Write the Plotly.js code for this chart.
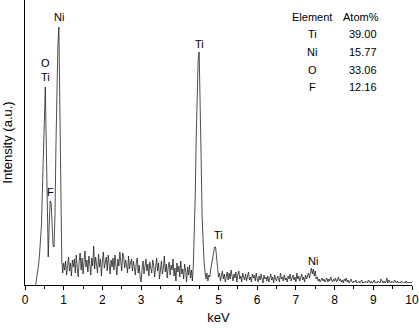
<!DOCTYPE html>
<html>
<head>
<meta charset="utf-8">
<script src="https://cdn.plot.ly/plotly-3.0.1.min.js"></script>
<style>
  html, body { margin: 0; padding: 0; background: #fff; }
  #eds { width: 419px; height: 328px; }
</style>
</head>
<body>
<div id="eds"></div>
<script>
// EDS spectrum, channels every 0.025 keV starting at 0.275 keV
var startKeV = 0.275;
var channelKeV = 0.025;
var counts = [
    0, 6, 12, 20, 30, 42, 60, 95, 140, 180, 198, 140, 55, 28, 60, 84, 82, 60, 40, 38,
    70, 140, 200, 240, 258, 160, 60, 25, 12, 22, 15, 24, 10, 20, 28, 14, 22, 9, 25, 18,
    26, 12, 30, 17, 8, 24, 32, 15, 27, 11, 20, 34, 18, 25, 13, 29, 21, 10, 27, 19,
    39, 16, 28, 22, 12, 31, 18, 26, 9, 24, 33, 17, 21, 28, 14, 30, 20, 11, 25, 18,
    27, 15, 30, 22, 10, 26, 19, 33, 24, 14, 32, 28, 17, 25, 20, 12, 29, 16, 22, 26,
    14, 24, 18, 10, 22, 27, 12, 20, 8, 3, 16, 24, 11, 19, 26, 14, 21, 9, 23, 17,
    12, 25, 20, 8, 18, 27, 14, 22, 6, 19, 24, 11, 17, 29, 13, 21, 7, 18, 23, 10,
    20, 15, 26, 9, 17, 4, 22, 13, 19, 8, 24, 11, 16, 6, 21, 14, 3, 18, 10, 20,
    7, 15, 4, 20, 50, 90, 150, 200, 225, 233, 195, 130, 70, 35, 24, 14, 6, 12, 4, 10,
    8, 16, 22, 30, 36, 38, 38, 28, 16, 8, 12, 4, 9, 14, 6, 11, 3, 8, 13, 5,
    12, 6, 15, 9, 4, 11, 7, 13, 3, 10, 14, 6, 9, 3, 12, 8, 5, 11, 4, 9,
    13, 5, 8, 3, 11, 7, 10, 4, 12, 6, 3, 9, 5, 11, 7, 2, 10, 6, 8, 4,
    9, 3, 7, 11, 5, 8, 2, 10, 6, 4, 9, 7, 3, 12, 6, 8, 4, 10, 5, 7,
    3, 9, 6, 11, 4, 7, 10, 5, 8, 3, 12, 6, 9, 4, 7, 11, 5, 8, 3, 10,
    6, 9, 12, 7, 13, 17, 11, 16, 9, 14, 6, 8, 4, 6, 3, 5, 7, 4, 6, 3,
    5, 7, 3, 6, 4, 8, 5, 3, 6, 4, 7, 3, 5, 8, 4, 6, 3, 5, 2, 6,
    4, 7, 3, 5, 2, 4, 6, 3, 2, 4, 3, 5, 2, 3, 4, 2, 3, 5, 2, 3,
    2, 4, 3, 2, 5, 3, 2, 4, 2, 3, 5, 2, 3, 2, 4, 3, 2, 6, 3, 2,
    4, 2, 3, 7, 2, 5, 3, 2, 4, 3, 2, 5, 3, 2, 4, 2, 3, 2, 4, 3,
    2, 3, 2, 4, 2, 3, 2, 3, 2, 3
];

// peak labels (centre of the text)
var peakNames = ['Ni', 'O<br>Ti', 'F', 'Ti', 'Ti', 'Ni'];
var peakKeV = [0.88, 0.52, 0.65, 4.50, 4.99, 7.44];
var peakY = [268, 215, 93, 241, 50, 24];

// composition table
var elements = ['Ti', 'Ni', 'O', 'F'];
var atomPct = ['39.00', '15.77', '33.06', '12.16'];
var rowY = [0.881, 0.818, 0.754, 0.695];

var txtFont = {family: 'Arial, "Liberation Sans", sans-serif', size: 11, color: '#000'};

var annotations = [];
for (let i = 0; i < peakNames.length; i++) {
    annotations.push({
        x: peakKeV[i], y: peakY[i], xref: 'x', yref: 'y',
        text: peakNames[i], showarrow: false, font: txtFont,
        xanchor: 'center', yanchor: 'middle'
    });
}
annotations.push({x: 0.742, y: 0.940, xref: 'paper', yref: 'paper', text: 'Element',
    showarrow: false, font: txtFont, xanchor: 'center', yanchor: 'middle'});
annotations.push({x: 0.868, y: 0.940, xref: 'paper', yref: 'paper', text: 'Atom%',
    showarrow: false, font: txtFont, xanchor: 'center', yanchor: 'middle'});
for (let i = 0; i < elements.length; i++) {
    annotations.push({x: 0.742, y: rowY[i], xref: 'paper', yref: 'paper', text: elements[i],
        showarrow: false, font: txtFont, xanchor: 'center', yanchor: 'middle'});
    annotations.push({x: 0.873, y: rowY[i], xref: 'paper', yref: 'paper', text: atomPct[i],
        showarrow: false, font: txtFont, xanchor: 'center', yanchor: 'middle'});
}

var spectrum = {
    y: counts,
    x0: startKeV,
    dx: channelKeV,
    type: 'scatter',
    mode: 'lines',
    line: {color: '#222', width: 0.8},
    hoverinfo: 'none'
};

var layout = {
    width: 419,
    height: 328,
    margin: {l: 25, r: 7, t: 0, b: 43},
    paper_bgcolor: '#fff',
    plot_bgcolor: '#fff',
    showlegend: false,
    font: txtFont,
    xaxis: {
        range: [0, 10],
        dtick: 1,
        ticks: 'outside',
        ticklen: 4,
        tickwidth: 1,
        tickcolor: '#000',
        minor: {dtick: 0.5, ticks: 'outside', ticklen: 3, tickcolor: '#000'},
        showline: true,
        linecolor: '#000',
        linewidth: 1,
        showgrid: false,
        zeroline: false,
        tickfont: {family: 'Arial, "Liberation Sans", sans-serif', size: 12, color: '#000'},
        title: {text: 'keV', font: {family: 'Arial, "Liberation Sans", sans-serif', size: 13, color: '#000'}, standoff: 6}
    },
    yaxis: {
        range: [0, 285],
        showticklabels: false,
        ticks: '',
        showline: true,
        linecolor: '#000',
        linewidth: 1,
        showgrid: false,
        zeroline: false,
        title: {text: 'Intensity (a.u.)', font: {family: 'Arial, "Liberation Sans", sans-serif', size: 13, color: '#000'}, standoff: 8}
    },
    annotations: annotations
};

Plotly.newPlot('eds', [spectrum], layout, {staticPlot: true});
</script>
</body>
</html>
